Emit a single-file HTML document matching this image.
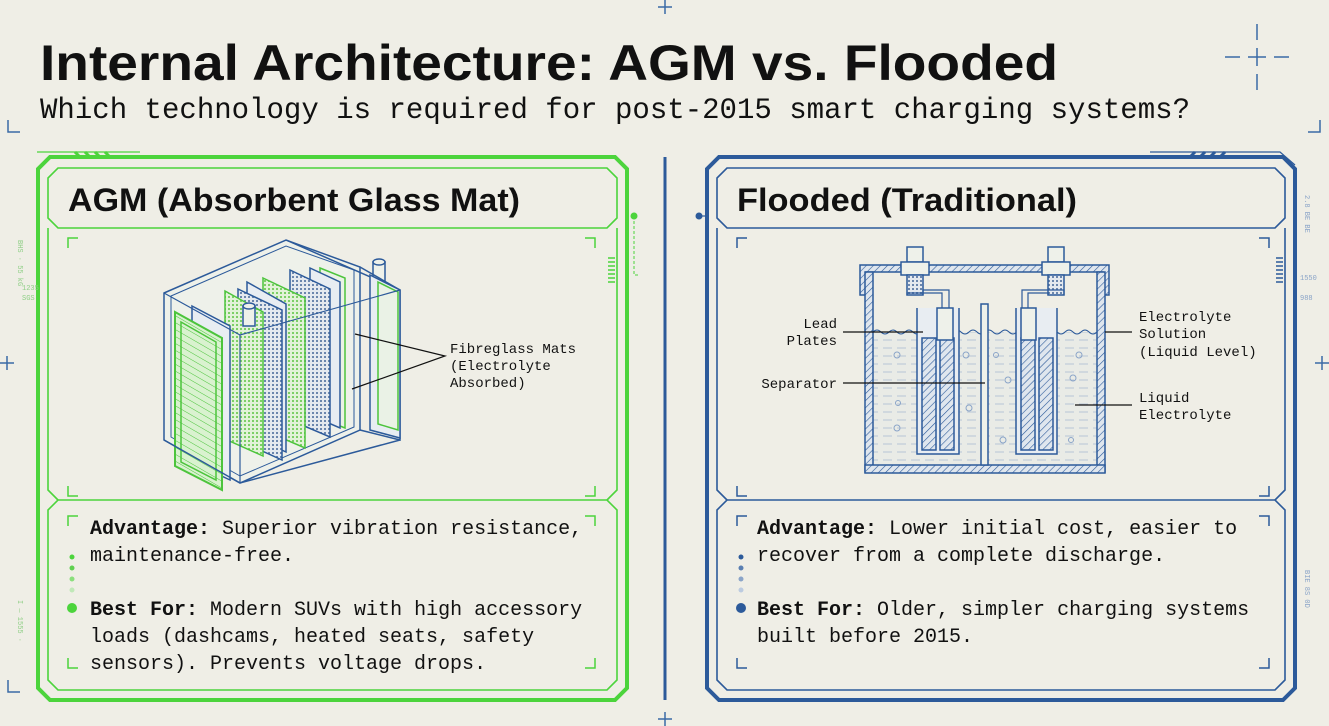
<!DOCTYPE html>
<html><head><meta charset="utf-8"><style>
html,body{margin:0;padding:0;background:#efeee6;}
svg{display:block}
.mono{font-family:"Liberation Mono",monospace;}
.sans{font-family:"Liberation Sans",sans-serif;font-weight:bold;}
</style></head><body>
<svg width="1329" height="726" viewBox="0 0 1329 726" xmlns="http://www.w3.org/2000/svg">
<defs>
<pattern id="hatchG" width="6" height="6" patternUnits="userSpaceOnUse" patternTransform="rotate(-60)"><rect width="6" height="6" fill="#d9f2cf"/><line x1="0" y1="0" x2="0" y2="6" stroke="#4cc43c" stroke-width="1"/></pattern>
<pattern id="dotB" width="4" height="4" patternUnits="userSpaceOnUse"><rect width="4" height="4" fill="#e4e9ef"/><rect width="2" height="2" fill="#6b86ad"/></pattern>
<pattern id="dotG" width="4" height="4" patternUnits="userSpaceOnUse"><rect width="4" height="4" fill="#e2f2d8"/><rect width="2" height="2" fill="#7ccf66"/></pattern>
<pattern id="hatchB" width="5" height="5" patternUnits="userSpaceOnUse" patternTransform="rotate(45)"><rect width="5" height="5" fill="#dfe6ee"/><line x1="0" y1="0" x2="0" y2="5" stroke="#2c5a9a" stroke-width="1.2"/></pattern>
<pattern id="liq" width="14" height="8" patternUnits="userSpaceOnUse"><rect width="14" height="8" fill="#e9ebe6"/><line x1="1" y1="4" x2="10" y2="4" stroke="#b8c6d6" stroke-width="1"/></pattern>
</defs>

<g stroke="#3a6aa6" stroke-width="1.5" fill="none">
<path d="M8 120 V132 H20"/><path d="M1320 120 V132 H1308"/>
<path d="M8 680 V692 H20"/>
<path d="M665 0 V14 M658 7 H672"/><path d="M665 712 V726 M658 719 H672"/>
<path d="M0 363 H14 M7 356 V370"/><path d="M1315 363 H1329 M1322 356 V370"/>
<path d="M1257 48 V66 M1248 57 H1266 M1225 57 H1240 M1274 57 H1289 M1257 24 V40 M1257 74 V90"/>
</g>

<text x="40" y="80" class="sans" font-size="50" fill="#111" textLength="1018" lengthAdjust="spacingAndGlyphs">Internal Architecture: AGM vs. Flooded</text>
<text x="40" y="118" class="mono" font-size="30" fill="#111" textLength="1150" lengthAdjust="spacingAndGlyphs">Which technology is required for post-2015 smart charging systems?</text>

<line x1="665" y1="157" x2="665" y2="700" stroke="#2c5a9a" stroke-width="3"/>

<!-- LEFT PANEL -->
<g fill="none" stroke="#4cd43c">
<path d="M50 157 H615 L627 169 V688 L615 700 H50 L38 688 V169 Z" stroke-width="4"/>
<path d="M58 168 H607 L617 178 V218 L607 228 H58 L48 218 V178 Z" stroke-width="1.6"/>
<path d="M48 228 V490 L58 500 M617 228 V490 L607 500" stroke-width="1.6"/>
<path d="M58 500 H607 L617 510 V680 L607 690 H58 L48 680 V510 Z" stroke-width="1.6"/>
<path d="M75 152 L80 157 M85 152 L90 157 M95 152 L100 157 M105 152 L110 157" stroke-width="3"/>
<path d="M37 152 H140" stroke-width="1.2"/>
<g stroke-width="1.5"><path d="M68 248 V238 H78"/><path d="M595 248 V238 H585"/><path d="M68 486 V496 H78"/><path d="M595 486 V496 H585"/>
<path d="M68 526 V516 H78"/><path d="M595 526 V516 H585"/><path d="M68 658 V668 H78"/><path d="M595 658 V668 H585"/></g>
<path d="M634 216 V275 H640" stroke-width="1" stroke-dasharray="3 2"/>
<path d="M608 258 H615 M608 262 H615 M608 266 H615 M608 270 H615 M608 274 H615 M608 278 H615 M608 282 H615" stroke-width="1.5"/>
</g>
<circle cx="634" cy="216" r="3.5" fill="#4cd43c"/>
<circle cx="72" cy="557" r="2.5" fill="#4cd43c"/><circle cx="72" cy="568" r="2.5" fill="#5fd050"/><circle cx="72" cy="579" r="2.5" fill="#8adf7c"/><circle cx="72" cy="590" r="2.5" fill="#c0e8b8"/>
<circle cx="72" cy="608" r="5" fill="#4cd43c"/>

<text x="68" y="211" class="sans" font-size="32" fill="#111" textLength="452" lengthAdjust="spacingAndGlyphs">AGM (Absorbent Glass Mat)</text>

<g stroke="#2c5a9a" stroke-width="1.5">
<path d="M164 293 L286 240 L360 267 L360 430 L240 483 L164 440 Z" fill="#eef1ea"/>
<path d="M171 296 L286 246 L354 270 L354 427 L240 476 L171 437 Z" fill="none" stroke-width="1"/>
<polygon points="320,268 345,278 345,428 320,418" fill="#eaf2e6" stroke="#4cc43c"/>
<polygon points="310,268 340,282 340,428 310,415" fill="#e8edf2"/>
<polygon points="290,270 330,289 330,437 290,420" fill="url(#dotB)"/>
<polygon points="263,278 305,298 305,448 263,430" fill="url(#dotG)" stroke="#4cc43c"/>
<polygon points="247,282 286,304 286,452 247,434" fill="#e8edf2"/>
<polygon points="238,289 282,310 282,460 238,440" fill="url(#dotB)"/>
<polygon points="225,291 263,312 263,456 225,439" fill="url(#dotG)" stroke="#4cc43c"/>
<polygon points="192,306 230,326 230,480 192,462" fill="#e8edf2"/>
<polygon points="175,312 222,338 222,490 175,466" fill="url(#hatchG)" stroke="#4cc43c" stroke-width="2"/>
<polygon points="181,322 216,342 216,480 181,462" fill="none" stroke="#4cc43c"/>
<rect x="243" y="306" width="12" height="20" fill="#eef1ea"/>
<ellipse cx="249" cy="306" rx="6" ry="3" fill="#eef1ea"/>
<rect x="373" y="262" width="12" height="20" fill="#eef1ea"/>
<ellipse cx="379" cy="262" rx="6" ry="3" fill="#eef1ea"/>
<path d="M360 267 L400 290 V440 L360 430 M164 440 L240 483 L400 440" fill="none"/>
<path d="M286 240 L400 290" fill="none"/>
<polygon points="370,275 400,290 400,438 370,430" fill="#e8edf2"/>
<polygon points="378,282 398,292 398,430 378,424" fill="#eaf2e6" stroke="#4cc43c"/>
<path d="M164 293 L240 335 L400 290 M240 335 V483" fill="none" stroke-width="1.2"/>
</g>
<g stroke="#111" stroke-width="1.2" fill="none"><path d="M355 334 L445 356 L352 389"/></g>
<text class="mono" font-size="14" fill="#111"><tspan x="450" y="353">Fibreglass Mats</tspan><tspan x="450" y="370">(Electrolyte</tspan><tspan x="450" y="387">Absorbed)</tspan></text>

<g class="mono" font-size="20" fill="#111">
<text x="90" y="534"><tspan font-weight="bold">Advantage:</tspan> Superior vibration resistance,</text>
<text x="90" y="561">maintenance-free.</text>
<text x="90" y="615"><tspan font-weight="bold">Best For:</tspan> Modern SUVs with high accessory</text>
<text x="90" y="642">loads (dashcams, heated seats, safety</text>
<text x="90" y="669">sensors). Prevents voltage drops.</text>
</g>

<!-- RIGHT PANEL -->
<g fill="none" stroke="#2c5a9a">
<path d="M719 157 H1283 L1295 169 V688 L1283 700 H719 L707 688 V169 Z" stroke-width="4"/>
<path d="M727 168 H1275 L1285 178 V218 L1275 228 H727 L717 218 V178 Z" stroke-width="1.6"/>
<path d="M717 228 V490 L727 500 M1285 228 V490 L1275 500" stroke-width="1.6"/>
<path d="M727 500 H1275 L1285 510 V680 L1275 690 H727 L717 680 V510 Z" stroke-width="1.6"/>
<path d="M1190 157 L1195 152 M1200 157 L1205 152 M1210 157 L1215 152 M1220 157 L1225 152" stroke-width="3"/>
<path d="M1150 152 H1280 L1295 165" stroke-width="1.2"/>
<g stroke-width="1.5"><path d="M737 248 V238 H747"/><path d="M1269 248 V238 H1259"/><path d="M737 486 V496 H747"/><path d="M1269 486 V496 H1259"/>
<path d="M737 526 V516 H747"/><path d="M1269 526 V516 H1259"/><path d="M737 658 V668 H747"/><path d="M1269 658 V668 H1259"/></g>
<path d="M1276 258 H1283 M1276 262 H1283 M1276 266 H1283 M1276 270 H1283 M1276 274 H1283 M1276 278 H1283 M1276 282 H1283" stroke-width="1.5"/>
<path d="M700 216 H707" stroke-width="1.2"/>
</g>
<circle cx="699" cy="216" r="3.5" fill="#2c5a9a"/>
<circle cx="741" cy="557" r="2.5" fill="#2c5a9a"/><circle cx="741" cy="568" r="2.5" fill="#5a7fb2"/><circle cx="741" cy="579" r="2.5" fill="#8aa4c8"/><circle cx="741" cy="590" r="2.5" fill="#bccbe0"/>
<circle cx="741" cy="608" r="5" fill="#2c5a9a"/>

<text x="737" y="211" class="sans" font-size="32" fill="#111" textLength="340" lengthAdjust="spacingAndGlyphs">Flooded (Traditional)</text>

<!-- Flooded battery -->
<g stroke="#2c5a9a" stroke-width="1.5">
<!-- liquid -->
<rect x="873" y="332" width="224" height="133" fill="url(#liq)" stroke="none"/>
<!-- lid -->
<path d="M860 265 H1109 V295 H1103 V272 H866 V295 H860 Z" fill="url(#hatchB)"/>
<!-- walls -->
<rect x="865" y="272" width="8" height="200" fill="url(#hatchB)"/>
<rect x="1097" y="272" width="8" height="200" fill="url(#hatchB)"/>
<rect x="865" y="465" width="240" height="8" fill="url(#hatchB)"/>
<path d="M873 332 q4 -4 8 0 t8 0 t8 0 t8 0 t8 0 t8 0 t8 0 t8 0 t8 0 t8 0 t8 0 t8 0 t8 0 t8 0 t8 0 t8 0 t8 0 t8 0 t8 0 t8 0 t8 0 t8 0 t8 0 t8 0 t8 0 t8 0 t8 0 t8 0" fill="none" stroke-width="1"/>
<!-- terminals -->
<rect x="907" y="247" width="16" height="15" fill="#eef1ea"/>
<rect x="901" y="262" width="28" height="13" fill="#eef1ea"/>
<rect x="907" y="275" width="16" height="20" fill="url(#dotB)"/>
<rect x="1048" y="247" width="16" height="15" fill="#eef1ea"/>
<rect x="1042" y="262" width="28" height="13" fill="#eef1ea"/>
<rect x="1048" y="275" width="16" height="20" fill="url(#dotB)"/>
<path d="M907 295 V294 M907 295 H907 M907 295 V293 H942 V308 M923 295 V290 H949 V308" fill="none" stroke-width="1.2"/>
<path d="M1048 295 V293 H1028 V308 M1064 295 V290 H1022 V308" fill="none" stroke-width="1.2"/>
<!-- plate groups -->
<path d="M917 308 V454 H959 V308" fill="#e8edf2"/>
<rect x="922" y="338" width="14" height="112" fill="url(#hatchB)"/>
<rect x="940" y="338" width="14" height="112" fill="url(#hatchB)"/>
<rect x="937" y="308" width="16" height="32" fill="#eef1ea"/>
<path d="M1016 308 V454 H1057 V308" fill="#e8edf2"/>
<rect x="1021" y="338" width="14" height="112" fill="url(#hatchB)"/>
<rect x="1039" y="338" width="14" height="112" fill="url(#hatchB)"/>
<rect x="1021" y="308" width="15" height="32" fill="#eef1ea"/>
<rect x="981" y="304" width="7" height="161" fill="#eef1ea"/>
</g>
<g fill="none" stroke="#8aa4c8" stroke-width="1"><circle cx="897" cy="355" r="3"/><circle cx="898" cy="403" r="2.5"/><circle cx="966" cy="355" r="3"/><circle cx="996" cy="355" r="2.5"/><circle cx="1008" cy="380" r="3"/><circle cx="969" cy="408" r="3"/><circle cx="1003" cy="440" r="3"/><circle cx="1079" cy="355" r="3"/><circle cx="1073" cy="378" r="3"/><circle cx="897" cy="428" r="3"/><circle cx="1071" cy="440" r="2.5"/></g>
<g stroke="#111" stroke-width="1.2" fill="none"><path d="M843 332 H923 M843 383 H985 M1105 332 H1132 M1075 405 H1132"/></g>
<g class="mono" font-size="14" fill="#111">
<text x="837" y="328" text-anchor="end">Lead</text>
<text x="837" y="345" text-anchor="end">Plates</text>
<text x="837" y="388" text-anchor="end">Separator</text>
<text x="1139" y="321">Electrolyte</text><text x="1139" y="338">Solution</text><text x="1139" y="356">(Liquid Level)</text>
<text x="1139" y="402">Liquid</text><text x="1139" y="419">Electrolyte</text>
</g>

<g class="mono" font-size="20" fill="#111">
<text x="757" y="534"><tspan font-weight="bold">Advantage:</tspan> Lower initial cost, easier to</text>
<text x="757" y="561">recover from a complete discharge.</text>
<text x="757" y="615"><tspan font-weight="bold">Best For:</tspan> Older, simpler charging systems</text>
<text x="757" y="642">built before 2015.</text>
</g>

<g class="mono" font-size="7" fill="#8fcf86">
<text x="18" y="240" transform="rotate(90 18 240)">BHS · 55 kG</text>
<text x="22" y="290">1235</text><text x="22" y="300">SGS</text>
<text x="18" y="600" transform="rotate(90 18 600)">I — 1555 ·</text>
</g>
<g class="mono" font-size="7" fill="#8aa4c8">
<text x="1305" y="195" transform="rotate(90 1305 195)">2.8 BE BE</text>
<text x="1300" y="280">1550</text><text x="1300" y="300">988</text>
<text x="1305" y="570" transform="rotate(90 1305 570)">BIE 8S 0D</text>
</g>
</svg>
</body></html>
